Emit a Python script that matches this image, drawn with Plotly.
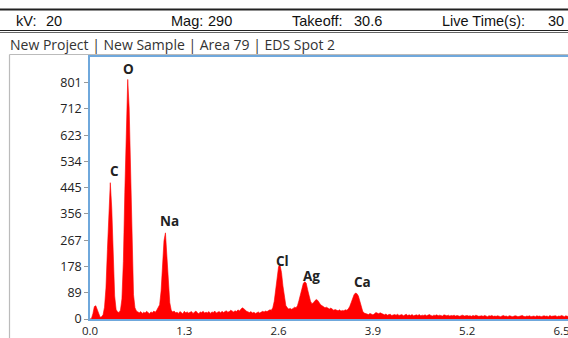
import plotly.graph_objects as go

# ---- data ----
energy_start = 0.0      # keV
energy_step = 0.02      # keV per channel
counts = [
    0, 2, 18, 42, 45, 32, 12, 6, 8, 14,
    40, 105, 235, 385, 462, 375, 195, 78, 32, 24,
    22, 30, 68, 195, 430, 670, 812, 715, 465, 215,
    82, 38, 27, 24, 21, 25, 19, 23, 20, 26,
    22, 18, 24, 21, 27, 23, 30, 42, 48, 95,
    175, 265, 292, 220, 120, 55, 30, 24, 27, 21,
    23, 19, 25, 22, 18, 26, 21, 24, 20, 23,
    25, 19, 22, 27, 21, 18, 24, 22, 26, 20,
    23, 21, 25, 19, 24, 22, 27, 20, 23, 25,
    21, 26, 22, 24, 28, 23, 25, 30, 26, 24,
    28, 25, 31, 27, 33, 38, 35, 30, 26, 24,
    22, 25, 20, 23, 19, 21, 24, 20, 22, 26,
    24, 27, 25, 29, 31, 30, 38, 60, 105, 150,
    178, 182, 158, 112, 70, 46, 38, 34, 36, 33,
    36, 40, 38, 45, 62, 85, 108, 120, 126, 122,
    100, 78, 60, 52, 55, 62, 66, 63, 55, 48,
    45, 42, 38, 40, 36, 34, 37, 33, 30, 32,
    30, 28, 31, 27, 29, 28, 31, 30, 34, 42,
    55, 70, 82, 88, 86, 78, 60, 40, 26, 20,
    18, 17, 15, 19, 16, 14, 17, 22, 20, 18,
    21, 19, 16, 14, 17, 13, 15, 16, 12, 14,
    15, 13, 16, 12, 14, 15, 11, 13, 16, 12,
    14, 12, 15, 11, 13, 14, 12, 15, 11, 13,
    12, 14, 11, 13, 15, 12, 10, 13, 12, 14,
    11, 13, 12, 10, 14, 12, 11, 13, 10, 12,
    11, 13, 10, 12, 11, 9, 12, 13, 10, 11,
    12, 10, 11, 9, 12, 10, 13, 11, 9, 10,
    11, 9, 12, 10, 8, 11, 10, 12, 9, 10,
    9, 11, 10, 8, 10, 12, 9, 10, 8, 11,
    10, 8, 9, 11, 10, 8, 9, 10, 12, 9,
    8, 10, 9, 11, 8, 9, 10, 8, 11, 9,
    10, 8, 9, 11, 9, 10, 8, 12, 9, 10,
    9, 11, 8, 10, 9, 12, 10, 8, 11, 9,
    10,
]
energies = [round(energy_start + energy_step * i, 2) for i in range(len(counts))]

element_labels = ["C", "O", "Na", "Cl", "Ag", "Ca"]
label_energy = [0.34, 0.525, 1.1, 2.66, 3.06, 3.75]
label_counts = [502, 847, 332, 197, 146, 125]

x_ticks = [0.0, 1.3, 2.6, 3.9, 5.2, 6.5]
y_ticks = [0, 89, 178, 267, 356, 445, 534, 623, 712, 801]

header_labels = ["kV:", "Mag:", "Takeoff:", "Live Time(s):"]
header_values = ["20", "290", "30.6", "30"]
header_label_px = [15, 170, 291, 441]
header_value_px = [45, 207, 353, 547]
title_text = "New Project | New Sample | Area 79 | EDS Spot 2"

# ---- figure ----
W, H = 568, 338
def px(x):
    return x / W
def py(y):
    return 1 - y / H

fig = go.Figure()
fig.add_trace(go.Scatter(
    x=energies, y=counts, mode="lines",
    line=dict(color="#ff0000", width=0.6),
    fill="tozeroy", fillcolor="#ff0000",
    hoverinfo="skip", showlegend=False,
))

for lab, ex, cy in zip(element_labels, label_energy, label_counts):
    fig.add_annotation(x=ex, y=cy, text=lab, showarrow=False,
                       xanchor="center", yanchor="middle",
                       font=dict(family="Open Sans", size=13.5, color="#222222", weight="bold"))

header_font = dict(family="Liberation Sans", size=14.5, color="#111111")
for t, xp in zip(header_labels + header_values, header_label_px + header_value_px):
    fig.add_annotation(xref="paper", yref="paper", x=px(xp), y=py(21), text=t,
                       showarrow=False, xanchor="left", yanchor="middle",
                       borderpad=0, font=header_font)

fig.add_annotation(xref="paper", yref="paper", x=px(9), y=py(44), text=title_text,
                   showarrow=False, xanchor="left", yanchor="middle", borderpad=0,
                   font=dict(family="Open Sans", size=14, color="#333333"))

shapes = [
    dict(type="line", xref="paper", yref="paper", x0=0, x1=1, y0=py(9.5), y1=py(9.5),
         line=dict(color="#222222", width=2)),
    dict(type="line", xref="paper", yref="paper", x0=0, x1=1, y0=py(30.5), y1=py(30.5),
         line=dict(color="#222222", width=1.2)),
    dict(type="line", xref="paper", yref="paper", x0=0, x1=1, y0=py(32.5), y1=py(32.5),
         line=dict(color="#666666", width=1)),
    dict(type="line", xref="paper", yref="paper", x0=px(9.5), x1=1, y0=py(54.5), y1=py(54.5),
         line=dict(color="#bbbbbb", width=1.2)),
    dict(type="line", xref="paper", yref="paper", x0=px(9.5), x1=px(9.5), y0=py(54.5), y1=0,
         line=dict(color="#bbbbbb", width=1.2)),
]

fig.update_layout(
    width=W, height=H,
    margin=dict(l=0, r=0, t=0, b=0, pad=0, autoexpand=False),
    paper_bgcolor="white", plot_bgcolor="white",
    shapes=shapes, showlegend=False,
    xaxis=dict(domain=[90 / W, 1], range=[0, 6.59], tickvals=x_ticks,
               ticktext=[f"{v:.1f}" for v in x_ticks], ticklabeloverflow="allow",
               automargin=False,
               showline=True, linecolor="#6fa8dc", linewidth=1.5, mirror=True,
               showgrid=False, zeroline=False, ticks="",
               tickfont=dict(family="Open Sans", size=11.5, color="#222222")),
    yaxis=dict(domain=[(H - 319) / H, (H - 57) / H], range=[0, 888], tickvals=y_ticks,
               automargin=False,
               showline=True, linecolor="#6fa8dc", linewidth=1.5, mirror=False,
               showgrid=False, zeroline=False, ticks="outside", ticklen=4,
               tickcolor="#999999",
               tickfont=dict(family="Open Sans", size=12.5, color="#222222")),
)

fig.write_html(
    "out.html",
    config={"displayModeBar": False},
    post_script=(
        "document.body.style.margin='0';"
        "document.documentElement.style.overflow='hidden';"
        "var d=document.getElementsByClassName('plotly-graph-div')[0];"
        "d.style.position='fixed';d.style.left='0px';d.style.top='0px';"
    ),
)
